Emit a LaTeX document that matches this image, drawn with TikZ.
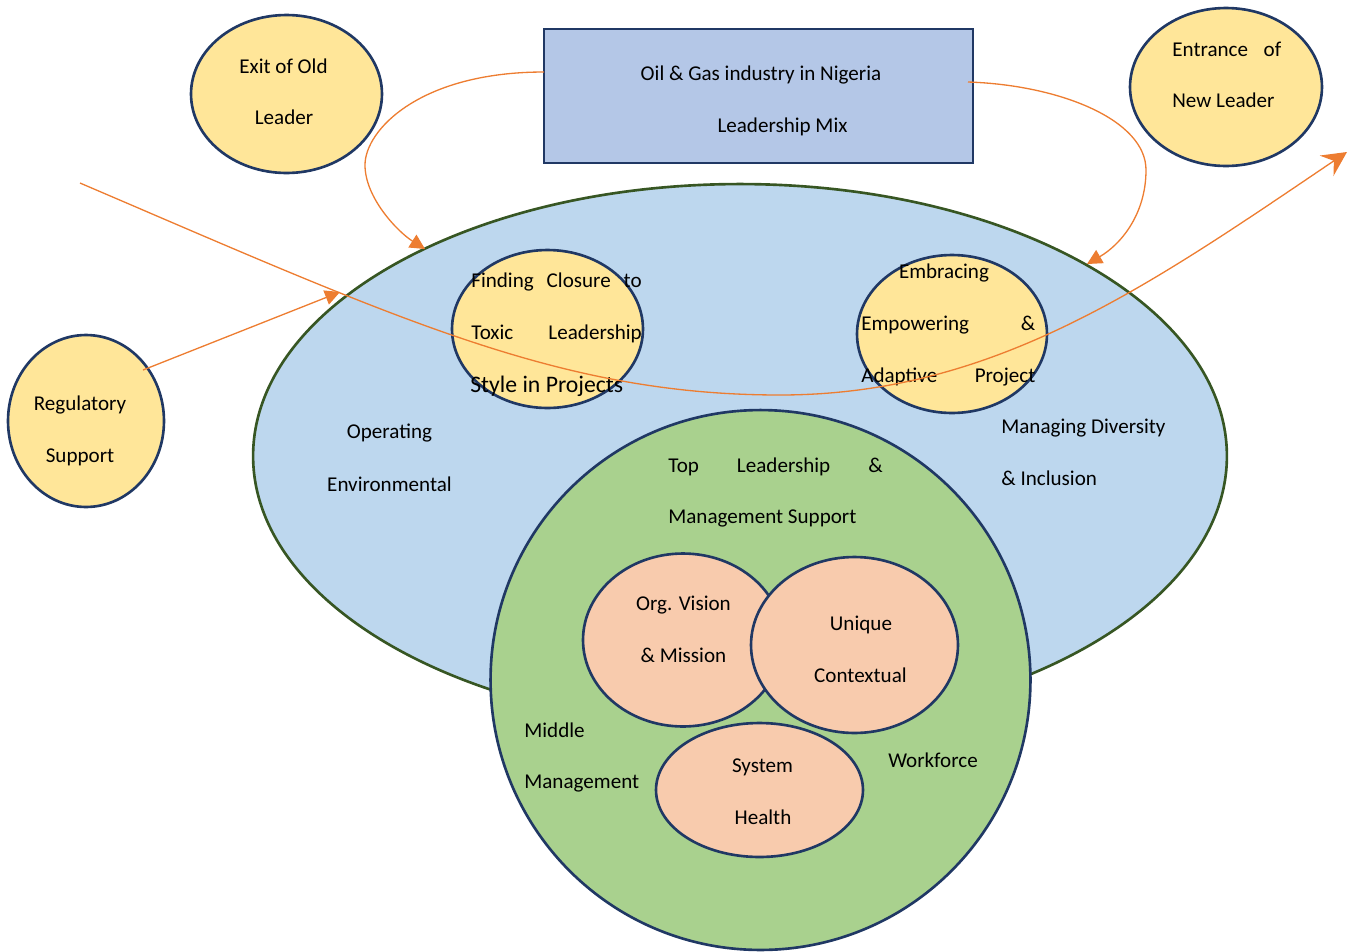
\documentclass[tikz,border=0pt]{standalone}
\usepackage{fontspec}
\setmainfont{Carlito}
\usetikzlibrary{shapes.geometric,arrows.meta}
\definecolor{yel}{HTML}{FFE699}
\definecolor{navy}{HTML}{203864}
\definecolor{rectfill}{HTML}{B4C7E7}
\definecolor{bigfill}{HTML}{BDD7EE}
\definecolor{bigline}{HTML}{375623}
\definecolor{grn}{HTML}{A9D18E}
\definecolor{peach}{HTML}{F8CBAD}
\definecolor{orng}{HTML}{ED7D31}
\begin{document}
\begin{tikzpicture}[x=0.02cm,y=-0.02cm,
  every node/.style={font=\fontsize{12}{14}\selectfont, inner sep=0pt},
  bub/.style={ellipse, draw=navy, line width=1.5pt, fill=yel},
  pch/.style={ellipse, draw=navy, line width=1.5pt, fill=peach},
  txt/.style={anchor=base},
  txtl/.style={anchor=base west},
  conn/.style={draw=orng, line width=0.75pt},
  tri/.style={-{Triangle[length=8.5pt,width=8.5pt]}},
  bigtip/.style={-{Stealth[length=14pt,width=14pt,inset=5pt]}}
]
\useasboundingbox (0,0) rectangle (1357,951);

% big shapes
\node[ellipse, draw=bigline, line width=1.5pt, fill=bigfill, minimum width=19.48cm, minimum height=10.88cm] (big) at (740,456) {};
\node[circle, draw=navy, line width=1.5pt, fill=grn, minimum size=10.8cm] (green) at (760.5,680) {};

% bubbles
\node[bub, minimum width=3.82cm, minimum height=3.16cm] (find) at (547.5,329) {};
\node[bub, minimum width=3.8cm, minimum height=3.16cm] (embr) at (952,334) {};
\node[pch, minimum width=4.14cm, minimum height=2.68cm] (sys) at (759.5,790) {};
\node[pch, minimum width=4.0cm, minimum height=3.46cm] (org) at (683,640) {};
\node[pch, minimum width=4.14cm, minimum height=3.52cm] (uniq) at (854.5,645) {};
\node[bub, minimum width=3.82cm, minimum height=3.16cm] (old) at (286.5,94) {};
\node[bub, minimum width=3.84cm, minimum height=3.16cm] (new) at (1226,87) {};
\node[bub, minimum width=3.12cm, minimum height=3.44cm] (reg) at (86,421) {};
\node[draw=navy, line width=1.6pt, fill=rectfill, minimum width=8.58cm, minimum height=2.68cm] (mix) at (758.5,96) {};

% texts
\node[txt] (t1) at (283.5,73) {Exit of Old};
\node[txt] (t2) at (284,124) {Leader};
\node[txt] (t3) at (761,80) {Oil \& Gas industry in Nigeria};
\node[txt] (t4) at (782.5,132) {Leadership Mix};
\node[txtl] (t5) at (1172,56) {\makebox[62pt][s]{Entrance\hfil of}};
\node[txtl] (t6) at (1172,107) {New Leader};
\node[txt] (t7) at (80,410) {Regulatory};
\node[txt] (t8) at (80,462) {Support};
\node[txtl] (t9) at (471,287) {\makebox[97pt][s]{Finding\hfil Closure\hfil to}};
\node[txtl] (t10) at (471,339) {\makebox[97pt][s]{Toxic\hfil Leadership}};
\node[txtl, font=\fontsize{13.5}{16}\selectfont] (t11) at (470,392) {Style in Projects};
\node[txt] (t12) at (944,278) {Embracing};
\node[txtl] (t13) at (861,330) {\makebox[99pt][s]{Empowering\hfil\&}};
\node[txtl] (t14) at (861,382) {\makebox[99pt][s]{Adaptive\hfil Project}};
\node[txt] (t15) at (389.5,438) {Operating};
\node[txt] (t16) at (389.5,491) {Environmental};
\node[txtl] (t17) at (1001,433) {Managing Diversity};
\node[txtl] (t18) at (1001,485) {\& Inclusion};
\node[txtl] (t19) at (668,472) {\makebox[122pt][s]{Top\hfil Leadership\hfil\&}};
\node[txtl] (t20) at (668,523) {Management Support};
\node[txt] (t21) at (683.5,610) {Org. Vision};
\node[txt] (t22) at (683.5,662) {\& Mission};
\node[txt] (t23) at (861,630) {Unique};
\node[txt] (t24) at (860.5,682) {Contextual};
\node[txtl] (t25) at (524,737) {Middle};
\node[txtl] (t26) at (524,788) {Management};
\node[txt] (t27) at (762.5,772) {System};
\node[txt] (t28) at (763,824) {Health};
\node[txt] (t29) at (933,767) {Workforce};

% connector end points
\coordinate (a1s) at (544,72);
\coordinate (a1e) at (425,249);
\coordinate (a2s) at (968,82);
\coordinate (a2e) at (1087,264);
\coordinate (a3s) at (143,370);
\coordinate (a3e) at (340,292);
\coordinate (a4s) at (80,183);
\coordinate (a4m) at (780,395);
\coordinate (a4e) at (1347,152);

% connectors
\draw[conn, tri] (a1s) .. controls (420,72) and (365,130) .. (365,165)
  .. controls (365,198) and (398,232) .. (a1e);
\draw[conn, tri] (a2s) .. controls (1060,85) and (1146,120) .. (1146,170)
  .. controls (1146,215) and (1120,245) .. (a2e);
\draw[conn, tri] (a3s) -- (a3e);
\draw[conn, bigtip] (a4s) .. controls (400,320) and (560,395) .. (a4m)
  .. controls (995,395) and (1150,285) .. (a4e);
\end{tikzpicture}
\end{document}
